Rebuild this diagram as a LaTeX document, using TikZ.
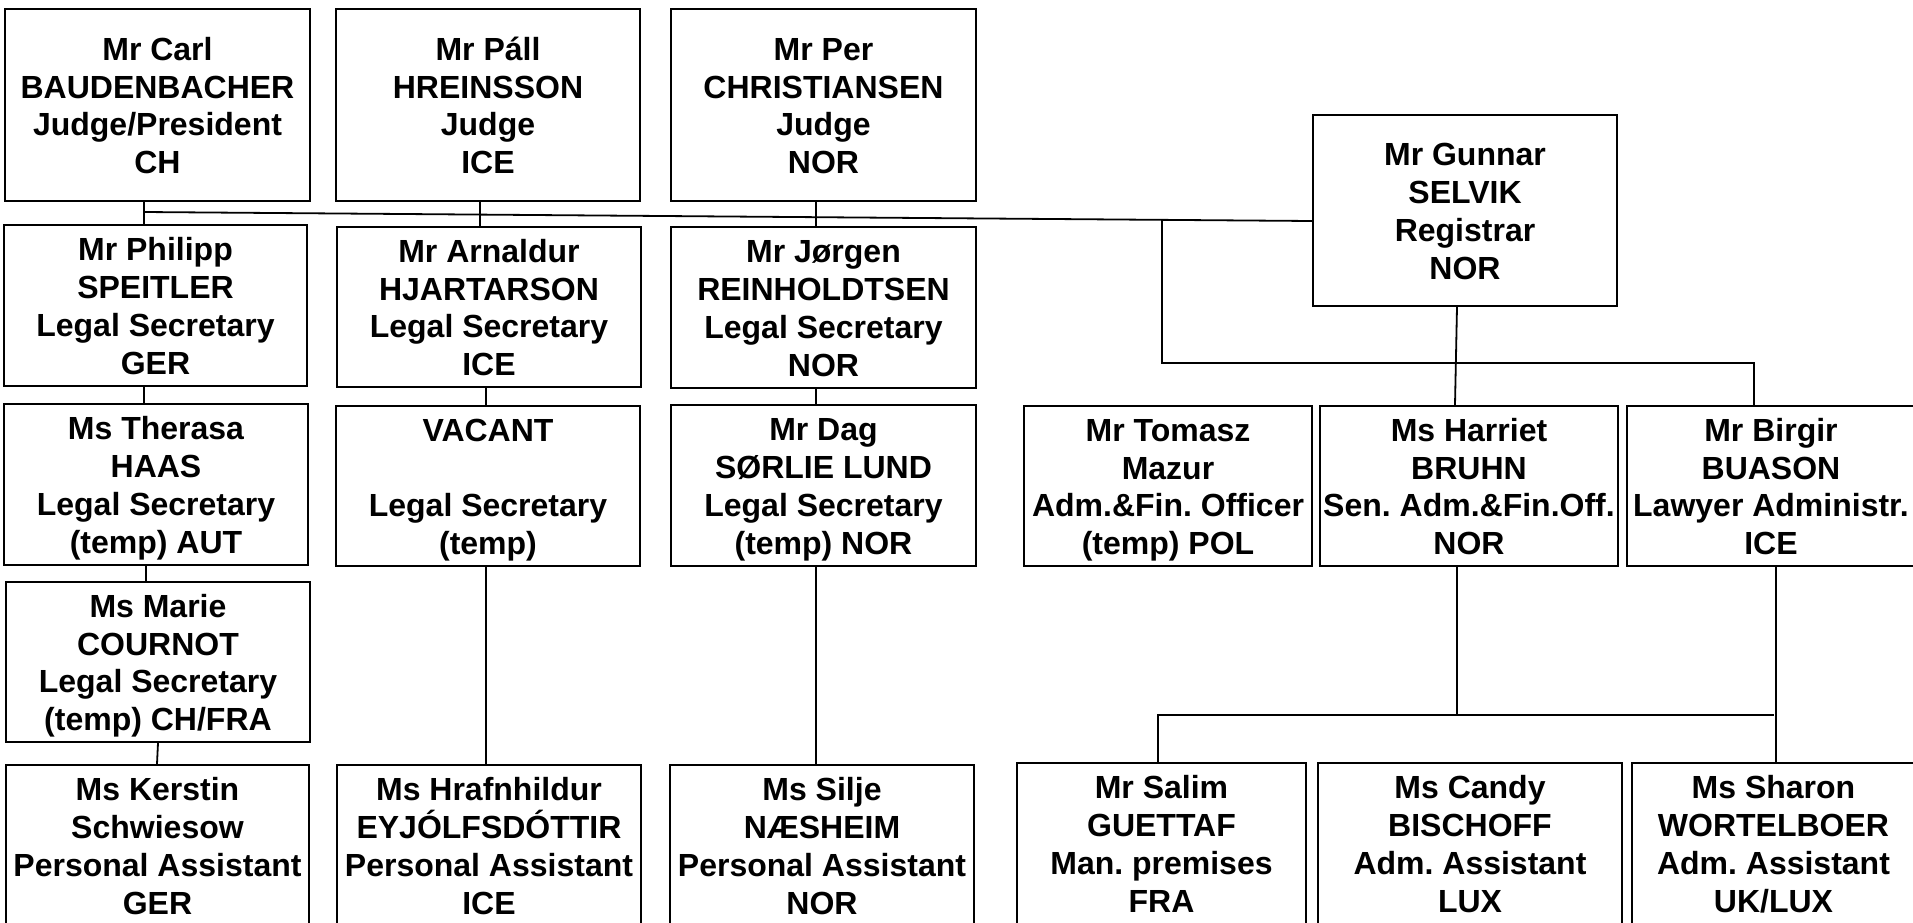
\documentclass[tikz,border=0pt]{standalone}
\usepackage{fontspec}
\setmainfont{Liberation Sans}
\frenchspacing
\newcommand{\orgbox}[6]{%
  \node[orgnode, minimum width={(#4-#2)*0.5pt}, minimum height={(#5-#3)*0.5pt}]
    (#1) at ({(#2+#4)/2},{(#3+#5)/2}) {\rule{0pt}{15.4pt}#6\vphantom{(}};}
\tikzset{
  orgnode/.style={draw=black, line width=1.1pt, inner sep=0pt, align=center,
    font=\fontsize{16}{18.9}\selectfont\bfseries, text=black},
  conn/.style={draw=black, line width=0.9pt}
}
\begin{document}
\begin{tikzpicture}[x=0.5pt, y=-0.5pt]
\useasboundingbox (0,0) rectangle (1913,922);
\clip (0,0) rectangle (1913,922);
\fill[white] (0,0) rectangle (1913,922);

% row 1
\orgbox{carl}{5}{9}{310}{201}{Mr Carl\\BAUDENBACHER\\Judge/President\\CH}
\orgbox{pall}{336}{9}{640}{201}{Mr Páll\\HREINSSON\\Judge\\ICE}
\orgbox{per}{671}{9}{976}{201}{Mr Per\\CHRISTIANSEN\\Judge\\NOR}
\orgbox{gunnar}{1313}{115}{1617}{306}{Mr Gunnar\\SELVIK\\Registrar\\NOR}
% row 2
\orgbox{philipp}{4}{225}{307}{386}{Mr Philipp\\SPEITLER\\Legal Secretary\\GER}
\orgbox{arnaldur}{337}{227}{641}{387}{Mr Arnaldur\\HJARTARSON\\Legal Secretary\\ICE}
\orgbox{jorgen}{671}{227}{976}{388}{Mr Jørgen\\REINHOLDTSEN\\Legal Secretary\\NOR}
% row 3
\orgbox{therasa}{4}{404}{308}{565}{Ms Therasa\\HAAS\\Legal Secretary\\(temp) AUT}
\orgbox{vacant}{336}{406}{640}{566}{VACANT\\\mbox{}\\Legal Secretary\\(temp)}
\orgbox{dag}{671}{405}{976}{566}{Mr Dag\\SØRLIE LUND\\Legal Secretary\\(temp) NOR}
\orgbox{tomasz}{1024}{406}{1312}{566}{Mr Tomasz\\Mazur\\Adm.\&Fin. Officer\\(temp) POL}
\orgbox{harriet}{1320}{406}{1618}{566}{Ms Harriet\\BRUHN\\Sen. Adm.\&Fin.Off.\\NOR}
\orgbox{birgir}{1627}{406}{1915}{566}{Mr Birgir\\BUASON\\Lawyer Administr.\\ICE}
% row 4
\orgbox{marie}{6}{582}{310}{742}{Ms Marie\\COURNOT\\Legal Secretary\\(temp) CH/FRA}
% row 5
\orgbox{kerstin}{6}{765}{309}{926}{Ms Kerstin\\Schwiesow\\Personal Assistant\\GER}
\orgbox{hrafn}{337}{765}{641}{926}{Ms Hrafnhildur\\EYJÓLFSDÓTTIR\\Personal Assistant\\ICE}
\orgbox{silje}{670}{765}{974}{926}{Ms Silje\\NÆSHEIM\\Personal Assistant\\NOR}
\orgbox{salim}{1017}{763}{1306}{924}{Mr Salim\\GUETTAF\\Man. premises\\FRA}
\orgbox{candy}{1318}{763}{1622}{924}{Ms Candy\\BISCHOFF\\Adm. Assistant\\LUX}
\orgbox{sharon}{1632}{763}{1915}{924}{Ms Sharon\\WORTELBOER\\Adm. Assistant\\UK/LUX}

% junction coordinates
\coordinate (mainL) at (144,212);
\coordinate (brTop) at (1162,220);
\coordinate (brBot) at (1162,363);
\coordinate (lowJ) at (1457,715);

% judges to legal secretaries
\draw[conn] (carl.south -| 144,0) -- (philipp.north -| 144,0);
\draw[conn] (pall.south -| 480,0) -- (arnaldur.north -| 480,0);
\draw[conn] (per.south -| 816,0) -- (jorgen.north -| 816,0);
% main horizontal line to registrar
\draw[conn] (mainL) -- (gunnar.west |- 0,221);
% branch to Birgir
\draw[conn] (brTop) -- (brBot) -| (birgir.north -| 1754,0);
% registrar to Harriet
\draw[conn] (gunnar.south -| 1457,0) -- (harriet.north -| 1455,0);
% column chains
\draw[conn] (philipp.south -| 144,0) -- (therasa.north -| 144,0);
\draw[conn] (arnaldur.south -| 486,0) -- (vacant.north -| 486,0);
\draw[conn] (jorgen.south -| 816,0) -- (dag.north -| 816,0);
\draw[conn] (therasa.south -| 146,0) -- (marie.north -| 146,0);
\draw[conn] (marie.south -| 158,0) -- (kerstin.north -| 157,0);
\draw[conn] (vacant.south -| 486,0) -- (hrafn.north -| 486,0);
\draw[conn] (dag.south -| 816,0) -- (silje.north -| 816,0);
% admin lower tree
\draw[conn] (harriet.south -| 1457,0) -- (lowJ);
\draw[conn] (salim.north -| 1158,0) |- (sharon.north |- lowJ);
\draw[conn] (birgir.south -| 1776,0) -- (sharon.north -| 1776,0);
\end{tikzpicture}
\end{document}
